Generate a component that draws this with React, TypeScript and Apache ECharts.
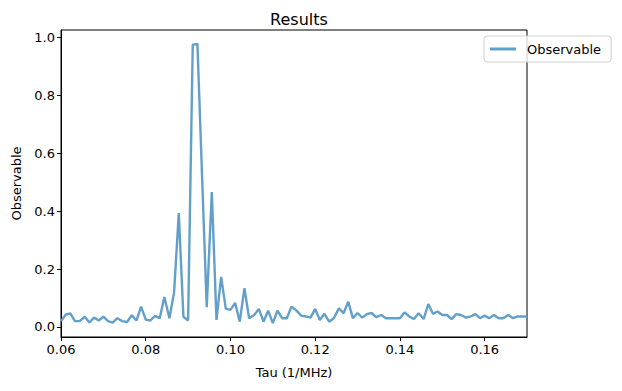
import React, { useEffect, useRef } from "react";
import * as echarts from "echarts";

const tau = [
  0.06, 0.0611, 0.0622, 0.0633, 0.0644, 0.0656, 0.0667, 0.0678, 0.0689,
  0.07, 0.0711, 0.0722, 0.0733, 0.0744, 0.0756, 0.0767, 0.0778, 0.0789,
  0.08, 0.0811, 0.0822, 0.0833, 0.0844, 0.0856, 0.0867, 0.0878, 0.0889,
  0.09, 0.0911, 0.0922, 0.0933, 0.0944, 0.0956, 0.0967, 0.0978, 0.0989,
  0.10, 0.1011, 0.1022, 0.1033, 0.1044, 0.1056, 0.1067, 0.1078, 0.1089,
  0.11, 0.1111, 0.1122, 0.1133, 0.1144, 0.1156, 0.1167, 0.1178, 0.1189,
  0.12, 0.1211, 0.1222, 0.1233, 0.1244, 0.1256, 0.1267, 0.1278, 0.1289,
  0.13, 0.1311, 0.1322, 0.1333, 0.1344, 0.1356, 0.1367, 0.1378, 0.1389,
  0.14, 0.1411, 0.1422, 0.1433, 0.1444, 0.1456, 0.1467, 0.1478, 0.1489,
  0.15, 0.1511, 0.1522, 0.1533, 0.1544, 0.1556, 0.1567, 0.1578, 0.1589,
  0.16, 0.1611, 0.1622, 0.1633, 0.1644, 0.1656, 0.1667, 0.1678, 0.1689,
  0.17,
];

const observable = [
  0.02, 0.042, 0.047, 0.02, 0.02, 0.035, 0.015, 0.032, 0.022, 0.035,
  0.02, 0.015, 0.03, 0.02, 0.017, 0.04, 0.022, 0.07, 0.025, 0.022,
  0.038, 0.03, 0.103, 0.03, 0.12, 0.393, 0.035, 0.022, 0.975, 0.978,
  0.52, 0.068, 0.466, 0.024, 0.173, 0.063, 0.059, 0.083, 0.018, 0.134,
  0.03, 0.041, 0.062, 0.018, 0.056, 0.013, 0.056, 0.03, 0.03, 0.07,
  0.056, 0.039, 0.036, 0.032, 0.062, 0.024, 0.045, 0.018, 0.03, 0.064,
  0.047, 0.087, 0.03, 0.048, 0.032, 0.044, 0.048, 0.034, 0.041, 0.03,
  0.03, 0.03, 0.03, 0.05, 0.036, 0.027, 0.047, 0.027, 0.079, 0.045,
  0.053, 0.041, 0.041, 0.027, 0.044, 0.041, 0.032, 0.036, 0.044, 0.03,
  0.039, 0.03, 0.041, 0.03, 0.03, 0.041, 0.03, 0.036, 0.036, 0.036,
];

const xTicks = [0.06, 0.08, 0.1, 0.12, 0.14, 0.16];
const yTicks = [0, 0.2, 0.4, 0.6, 0.8, 1.0];

const FONT = "DejaVu Sans";
const LINE = "#62a0ca";

export default function App() {
  const ref = useRef<HTMLDivElement>(null);
  useEffect(() => {
    if (!ref.current) return;
    const chart = echarts.init(ref.current, null, { renderer: "svg" });
    chart.setOption({
      animation: false,
      backgroundColor: "#ffffff",
      textStyle: { fontFamily: FONT },
      title: {
        text: "Results",
        left: 294,
        top: 6,
        textAlign: "center",
        textStyle: { fontFamily: FONT, fontSize: 16, fontWeight: "normal", color: "#000" },
      },
      legend: {
        data: [{ name: "Observable", icon: "rect" }],
        left: 484,
        top: 36,
        orient: "vertical",
        padding: [6, 10, 6, 6],
        itemWidth: 26,
        itemHeight: 3,
        borderColor: "#d0d0d0",
        borderWidth: 1,
        borderRadius: 3,
        backgroundColor: "rgba(255,255,255,0.8)",
        itemStyle: { color: LINE },
        lineStyle: { opacity: 0 },
        textStyle: {
          fontFamily: FONT,
          fontSize: 13,
          color: "#000",
          padding: [0, 0, 0, 6],
          lineHeight: 14,
        },
      },
      grid: {
        left: 61,
        right: 95,
        top: 30,
        bottom: 54,
        show: true,
        borderColor: "#000",
        borderWidth: 1,
        backgroundColor: "transparent",
      },
      xAxis: {
        type: "value",
        min: 0.06,
        max: 0.17,
        interval: 0.02,
        name: "Tau (1/MHz)",
        nameLocation: "middle",
        nameGap: 29,
        nameTextStyle: { fontFamily: FONT, fontSize: 13, color: "#000" },
        axisLine: { show: true, onZero: false, lineStyle: { color: "#000", width: 1 } },
        axisTick: { show: true, inside: false, length: 4, lineStyle: { color: "#000" }, customValues: xTicks },
        axisLabel: {
          fontFamily: FONT,
          fontSize: 13,
          color: "#000",
          margin: 6,
          customValues: xTicks,
          formatter: (v: number) => v.toFixed(2),
        },
        splitLine: { show: false },
      },
      yAxis: {
        type: "value",
        min: -0.035,
        max: 1.026,
        name: "Observable",
        nameLocation: "middle",
        nameGap: 38,
        nameTextStyle: { fontFamily: FONT, fontSize: 13, color: "#000" },
        axisLine: { show: true, onZero: false, lineStyle: { color: "#000", width: 1 } },
        axisTick: { show: true, inside: false, length: 4, lineStyle: { color: "#000" }, customValues: yTicks },
        axisLabel: {
          fontFamily: FONT,
          fontSize: 13,
          color: "#000",
          margin: 6,
          customValues: yTicks,
          formatter: (v: number) => v.toFixed(1),
        },
        splitLine: { show: false },
      },
      series: [
        {
          name: "Observable",
          type: "line",
          data: tau.map((t, i) => [t, observable[i]]),
          symbol: "none",
          lineStyle: { color: LINE, width: 2.4 },
          itemStyle: { color: LINE },
          clip: true,
        },
      ],
    });
    return () => chart.dispose();
  }, []);
  return <div ref={ref} style={{ width: 622, height: 391, position: "absolute", left: 0, top: 0 }} />;
}
